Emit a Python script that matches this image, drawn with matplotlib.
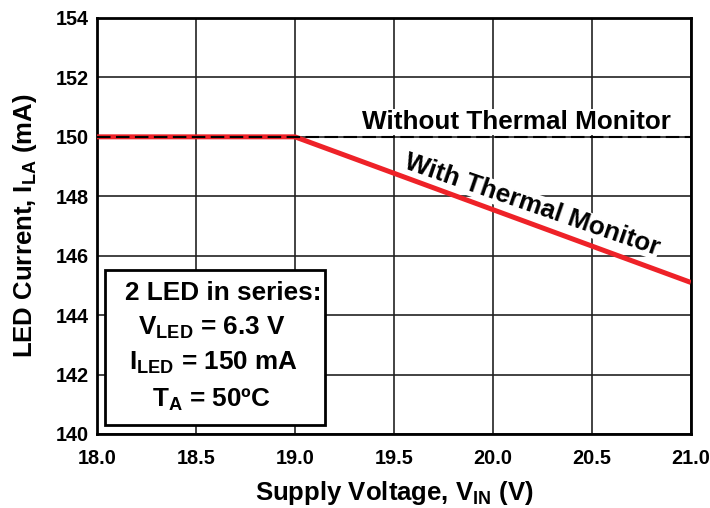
import matplotlib
matplotlib.use("Agg")
import matplotlib.pyplot as plt
from matplotlib.patches import Rectangle

plt.rcParams['font.family'] = ['Liberation Sans', 'DejaVu Sans']
plt.rcParams['font.weight'] = 'bold'
plt.rcParams['mathtext.fontset'] = 'custom'
plt.rcParams['mathtext.rm'] = 'Liberation Sans:bold'
plt.rcParams['mathtext.bf'] = 'Liberation Sans:bold'
plt.rcParams['mathtext.it'] = 'Liberation Sans:bold'
plt.rcParams['mathtext.default'] = 'bf'

# data
vin_without = [18.0, 21.0]
iled_without = [150.0, 150.0]
vin_with = [18.0, 19.0, 21.0]
iled_with = [150.0, 150.0, 145.1]

xticks = [18.0, 18.5, 19.0, 19.5, 20.0, 20.5, 21.0]
yticks = [140, 142, 144, 146, 148, 150, 152, 154]

box_lines = ["2 LED in series:",
             r"V$_{LED}$ = 6.3 V",
             r"I$_{LED}$ = 150 mA",
             r"T$_{A}$ = 50ºC"]

fig = plt.figure(figsize=(7.1, 5.08), dpi=100)
ax = fig.add_axes([0.1366, 0.1457, 0.8364, 0.8189])

ax.plot(vin_with, iled_with, color="#ee2228", linewidth=3.6, zorder=3,
        solid_capstyle="butt")
ax.plot(vin_without, iled_without, color="black", linewidth=1.5,
        linestyle=(0, (6.5, 2.6)), zorder=4)

ax.set_xlim(18.0, 21.0)
ax.set_ylim(140, 154)
ax.set_xticks(xticks)
ax.set_xticklabels([f"{v:.1f}" for v in xticks])
ax.set_yticks(yticks)
ax.tick_params(axis="x", length=0, labelsize=14.3, pad=11)
ax.tick_params(axis="y", length=0, labelsize=14.3, pad=6)
for lbl in ax.get_xticklabels() + ax.get_yticklabels():
    lbl.set_fontweight("bold")
ax.grid(True, color="#222222", linewidth=1.2)
ax.set_axisbelow(True)
for s in ax.spines.values():
    s.set_linewidth(2.0)

ax.set_xlabel(r"Supply Voltage, V$_{IN}$ (V)", fontsize=18.5,
              fontweight="bold", labelpad=8)
ax.set_ylabel(r"LED Current, I$_{LA}$ (mA)", fontsize=18.5,
              fontweight="bold", labelpad=12)

ax.text(20.12, 150.5, "Without Thermal Monitor", fontsize=18.8,
        fontweight="bold", ha="center", va="center",
        bbox=dict(fc="white", ec="none", pad=1), zorder=5)

# white patch behind the rotated label hides grid, red line stays visible
rot_kw = dict(fontsize=18.8, fontweight="bold", ha="center", va="center",
              rotation=-19, rotation_mode="anchor")
ax.text(20.2, 147.7, "With Thermal Monitor", color="white",
        bbox=dict(fc="white", ec="none", pad=0), zorder=2.5, **rot_kw)
ax.text(20.2, 147.7, "With Thermal Monitor", color="black", zorder=5,
        **rot_kw)

ax.add_patch(Rectangle((18.04, 140.30), 1.112, 5.22, transform=ax.transData,
                       fc="white", ec="black", lw=2.0, zorder=6))
box_x = [18.636, 18.58, 18.59, 18.58]
box_y = [144.51, 143.33, 142.15, 140.91]
for t, bx, by in zip(box_lines, box_x, box_y):
    ax.text(bx, by, t, fontsize=18.8, fontweight="bold", ha="center",
            va="baseline", zorder=7)

fig.savefig("out.png", dpi=100)
